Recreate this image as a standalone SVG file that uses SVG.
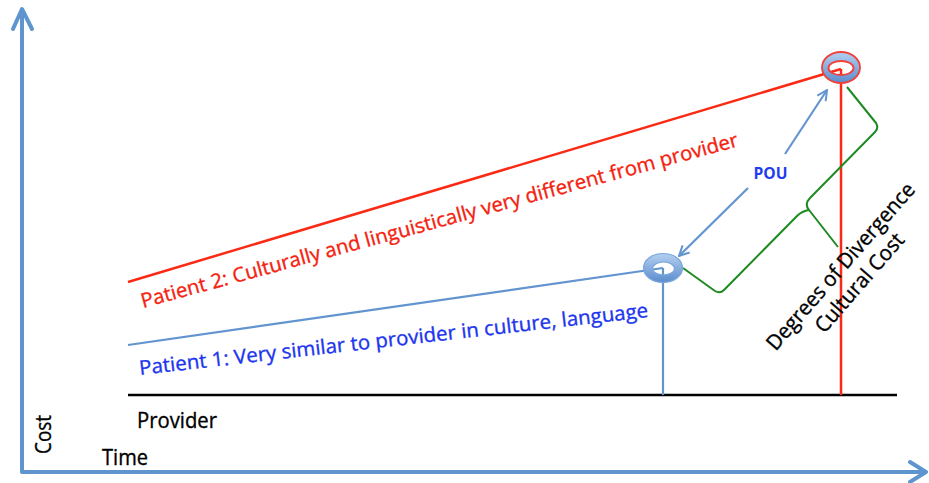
<svg xmlns="http://www.w3.org/2000/svg" width="929" height="483" viewBox="0 0 929 483">
  <style>
    .lbl { font-family: "Open Sans", Lato, "Liberation Sans", sans-serif; stroke-width: 0.35; }
    .axis { fill: none; stroke: #5f95cf; stroke-width: 4; stroke-linejoin: round; stroke-linecap: round; }
    .red { stroke: #fb2a14; stroke-width: 2.5; fill: none; }
    .blue { stroke: #6294d0; stroke-width: 2.2; fill: none; }
    .brace { fill: none; stroke: #1e8a22; stroke-width: 2; stroke-linejoin: round; }
  </style>
  <defs>
    <linearGradient id="ringFill" x1="0" y1="0" x2="0" y2="1">
      <stop offset="0" stop-color="#b4d0f0"/>
      <stop offset="1" stop-color="#5b8ccd"/>
    </linearGradient>
    <marker id="openHead" viewBox="0 0 12 12" refX="11" refY="6" markerWidth="12" markerHeight="12" markerUnits="userSpaceOnUse" orient="auto">
      <path d="M1,1 L11,6 L1,11" fill="none" stroke="#6294d0" stroke-width="2"/>
    </marker>
  </defs>

  <!-- axes -->
  <g id="axes">
    <path class="axis" d="M22,471 L22,10"/>
    <path class="axis" d="M13,29 L22,9 L32,29"/>
    <path class="axis" d="M22,472 L925,472"/>
    <path class="axis" d="M910,462 L926,472 L910,482"/>
    <text class="lbl" x="0" y="0" font-size="21" fill="#000" stroke="#000" textLength="39" lengthAdjust="spacingAndGlyphs" transform="translate(51,454) rotate(-90)">Cost</text>
    <text class="lbl" x="102" y="465" font-size="21" fill="#000" stroke="#000" textLength="46" lengthAdjust="spacingAndGlyphs">Time</text>
  </g>

  <!-- baseline for the provider -->
  <g id="provider">
    <line x1="128" y1="395" x2="897" y2="395" stroke="#000" stroke-width="2.5"/>
    <text class="lbl" x="137" y="428" font-size="21" fill="#000" stroke="#000" textLength="80" lengthAdjust="spacingAndGlyphs">Provider</text>
  </g>

  <!-- cost lines and their verticals -->
  <g id="connectors">
    <line class="red" x1="128" y1="282" x2="841" y2="69"/>
    <line class="red" x1="841" y1="69" x2="841" y2="395"/>
    <line class="blue" x1="128" y1="345" x2="663" y2="268"/>
    <line class="blue" x1="663" y1="268" x2="663" y2="395"/>
    <!-- point of understanding arrow, broken around its label -->
    <line class="blue" x1="748" y1="188" x2="679" y2="256" marker-end="url(#openHead)"/>
    <line class="blue" x1="785" y1="154" x2="827" y2="90" marker-end="url(#openHead)"/>
    <!-- brace spanning the two end points -->
    <path class="brace" d="M847,87 L876,123 Q879,128 875,132 L810,198 Q804,204 809,210 L838,247 M809,210 Q802,211 797,216 L724,290 Q720,294 715,291 L683,268"/>
  </g>

  <g id="patient2">
    <path d="M860,67.5 a19,15.5 0 1,0 -38,0 a19,15.5 0 1,0 38,0 Z M853.5,68 a12.5,7 0 1,1 -25,0 a12.5,7 0 1,1 25,0 Z" fill="url(#ringFill)" fill-rule="evenodd" stroke="#f0413a" stroke-width="1.8"/>
    <text class="lbl" x="0" y="0" font-size="20" fill="#f5220f" stroke="#f5220f" textLength="618" lengthAdjust="spacingAndGlyphs" transform="translate(143,308) rotate(-15.2)">Patient 2: Culturally and linguistically very different from provider</text>
  </g>

  <g id="patient1">
    <path d="M682.5,268 a19.5,14.5 0 1,0 -39,0 a19.5,14.5 0 1,0 39,0 Z M674.5,268.5 a11,6.5 0 1,1 -22,0 a11,6.5 0 1,1 22,0 Z" fill="url(#ringFill)" fill-rule="evenodd" stroke="#7aa6dc" stroke-width="1.2"/>
    <text class="lbl" x="0" y="0" font-size="20" fill="#2035ee" stroke="#2035ee" textLength="512" lengthAdjust="spacingAndGlyphs" transform="translate(140,375) rotate(-6.5)">Patient 1: Very similar to provider in culture, language</text>
  </g>

  <g id="pou">
    <text class="lbl" x="770.5" y="178.5" font-size="16" font-weight="bold" fill="#1f3cf0" text-anchor="middle" textLength="34" lengthAdjust="spacingAndGlyphs">POU</text>
  </g>

  <g id="divergence">
    <g transform="translate(846,271) rotate(-49)">
      <text class="lbl" x="0" y="0" font-size="21" fill="#000" stroke="#000" text-anchor="middle" textLength="214" lengthAdjust="spacingAndGlyphs">Degrees of Divergence</text>
      <text class="lbl" x="0" y="25" font-size="21" fill="#000" stroke="#000" text-anchor="middle" textLength="124" lengthAdjust="spacingAndGlyphs">Cultural Cost</text>
    </g>
  </g>
</svg>
